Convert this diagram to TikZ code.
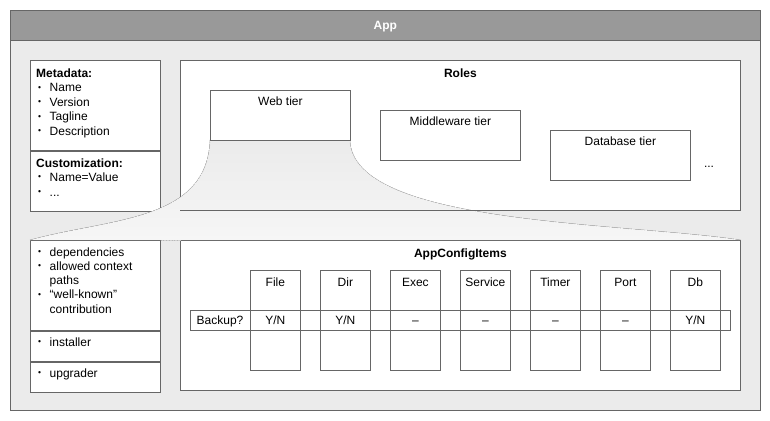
\documentclass[tikz,border=0pt]{standalone}
\usepackage{fontspec}
\setmainfont{Liberation Sans}
\usetikzlibrary{positioning, calc}

\definecolor{hdrgray}{HTML}{999999}
\definecolor{bodygray}{HTML}{EBEBEB}
\definecolor{edgegray}{HTML}{666666}
\definecolor{dotgray}{HTML}{B8B8B8}
\definecolor{funneltop}{HTML}{F6F6F6}
\newcommand{\bul}{\makebox[13.5pt][l]{\hspace{2pt}\raisebox{1.6pt}{\fontsize{8.5}{9}\selectfont\textbullet}}}
\newcommand{\yn}{Y/N}

\begin{document}
\begin{tikzpicture}[x=1pt, y=-1pt,
    font=\fontsize{12}{14.5}\selectfont,
    box/.style={rectangle, draw=edgegray, line width=0.75pt, fill=white, inner sep=0pt, anchor=north west},
    tier/.style={box, minimum width=140pt, minimum height=50pt},
    itemcol/.style={box, minimum width=50pt, minimum height=100pt},
    label text/.style={inner sep=0pt, anchor=base},
    title/.style={label text, font=\fontsize{12}{14.5}\selectfont\bfseries},
    list/.style={inner sep=0pt, anchor=base west},
    funnel fill/.style={top color=bodygray, bottom color=funneltop},
    funnel edge/.style={draw=dotgray, dotted, line width=0.7pt},
]

\useasboundingbox (0,0) rectangle (770,420);

% App frame
\node (app) [box, fill=bodygray, minimum width=750pt, minimum height=400pt] at (10,10) {};
\node (apphdr) [box, fill=hdrgray, minimum width=750pt, minimum height=30pt] at (app.north west) {};
\node (appT) [title, text=white] at ($(apphdr.north)+(0,20)$) {App};

% Metadata / customization
\node (meta) [box, minimum width=130pt, minimum height=90pt] at (30,60) {};
\node (cust) [box, minimum width=130pt, minimum height=60pt] at (meta.south west) {};
\node (metaL) [list] at ($(meta.north west)+(6,17.3)$) {\begin{tabular}[t]{@{}l@{}}\textbf{Metadata:}\\ \bul Name\\ \bul Version\\ \bul Tagline\\ \bul Description\end{tabular}};
\node (custL) [list] at ($(cust.north west)+(6,16.3)$) {\begin{tabular}[t]{@{}l@{}}\textbf{Customization:}\\ \bul Name=Value\\ \bul ...\end{tabular}};

% Roles
\node (roles) [box, minimum width=560pt, minimum height=150pt] at (180,60) {};
\node (rolesT) [title] at ($(roles.north)+(0,17.3)$) {Roles};

% Lifecycle boxes
\node (deps) [box, minimum width=130pt, minimum height=90pt] at (30,240) {};
\node (inst) [box, minimum width=130pt, minimum height=30pt] at (deps.south west) {};
\node (upg) [box, minimum width=130pt, minimum height=30pt] at (inst.south west) {};
\node (depsL) [list, font=\fontsize{12}{14.3}\selectfont] at ($(deps.north west)+(6,16)$) {\begin{tabular}[t]{@{}l@{}}\bul dependencies\\ \bul allowed context\\ \hspace*{13.5pt}paths\\ \bul ``well-known''\\ \hspace*{13.5pt}contribution\end{tabular}};
\node (instL) [list] at ($(inst.north west)+(6,15.7)$) {\bul installer};
\node (upgL) [list] at ($(upg.north west)+(6,15.7)$) {\bul upgrader};

% AppConfigItems
\node (items) [box, minimum width=560pt, minimum height=150pt] at (180,240) {};
\node (itemsT) [title] at ($(items.north)+(0,17.5)$) {AppConfigItems};

% Zoom funnel from the web tier
\coordinate (webSW) at (210,140);
\coordinate (webSE) at (350,140);
\fill[funnel fill] (webSW) -- (webSE) .. controls (352,225) and (620,222) .. (items.north east)
  -- (deps.north west) .. controls (110,218) and (207,222) .. (webSW) -- cycle;
\draw[funnel edge] (webSE) .. controls (352,225) and (620,222) .. (items.north east);
\draw[funnel edge] (deps.north west) .. controls (110,218) and (207,222) .. (webSW);
\draw[funnel edge] (deps.north east) -- (items.north west);
\draw[draw=edgegray, line width=0.75pt] (roles.south west) -- (roles.south east);

% Tiers
\node (web) [tier] at (210,90) {};
\node (mid) [tier] at (380,110) {};
\node (db) [tier] at (550,130) {};
\node (webT) [label text] at ($(web.north)+(0,15.5)$) {Web tier};
\node (midT) [label text] at ($(mid.north)+(0,15.5)$) {Middleware tier};
\node (dbT) [label text] at ($(db.north)+(0,15.5)$) {Database tier};
\node (rolesMore) [label text] at (709,167) {...};

% Item columns
\foreach \lbl/\val [count=\i from 0] in {File/\yn, Dir/\yn, Exec/--, Service/--, Timer/--, Port/--, Db/\yn} {
  \node (col-\lbl) [itemcol] at (250+70*\i,270) {};
  \node (colT-\lbl) [label text] at ($(col-\lbl.north)+(0,16)$) {\lbl};
  \node (colV-\lbl) [label text] at ($(col-\lbl.center)+(0,3.8)$) {\val};
}

% Backup row
\node (backup) [box, fill=none, minimum width=540pt, minimum height=20pt] at (190,310) {};
\node (backupT) [label text] at ($(backup.west)+(30,3.8)$) {Backup?};

\end{tikzpicture}
\end{document}
